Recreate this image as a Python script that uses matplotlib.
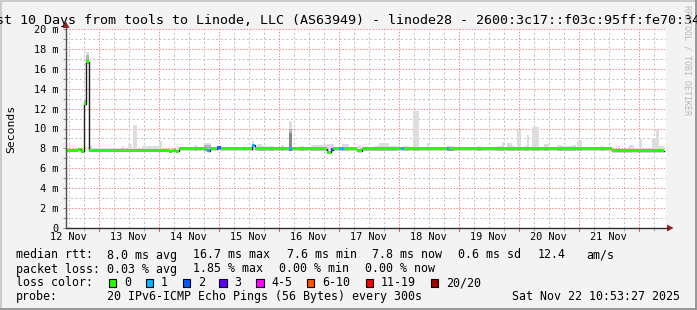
import matplotlib
matplotlib.use('Agg')
import matplotlib.pyplot as plt
from matplotlib.patches import Rectangle, Polygon
from matplotlib.lines import Line2D

W, H = 697, 310
MONO = 'DejaVu Sans Mono'

# ---------------- data ----------------
title = "Last 10 Days from tools to Linode, LLC (AS63949) - linode28 - 2600:3c17::f03c:95ff:fe70:34"
day_labels = ['12 Nov', '13 Nov', '14 Nov', '15 Nov', '16 Nov',
              '17 Nov', '18 Nov', '19 Nov', '20 Nov', '21 Nov']
span_hours = 240.0            # last 10 days, ending Sat Nov 22 10:53:27
first_midnight = 13.109       # hours from start to Nov 13 00:00
y_ticks = [0, 2, 4, 6, 8, 10, 12, 14, 16, 18, 20]
y_tick_labels = ['0', '2 m', '4 m', '6 m', '8 m', '10 m', '12 m', '14 m',
                 '16 m', '18 m', '20 m']

# median rtt (ms) as steps: segment i spans med_t[i]..med_t[i+1]
med_t = [0, 4.8, 6.0, 7.0, 8.0, 9.0, 41.2, 42.4, 44.0, 45.2, 56.4, 57.6,
         60.4, 62.0, 74.4, 75.6, 89.2, 90.4, 104.4, 106.0, 106.8, 109.2,
         111.2, 116.4, 118.4, 134.0, 135.2, 152.4, 153.2, 218.4, 239.2]
med_v = [7.8, 7.9, 7.7, 12.5, 16.7, 7.8, 7.7, 7.8, 7.7, 7.95, 7.75, 7.95,
         8.05, 7.95, 8.3, 7.95, 7.95, 7.95, 7.6, 7.85, 7.95, 7.95,
         7.95, 7.75, 7.95, 7.95, 7.95, 7.95, 7.95, 7.75]
med_loss = [0, 0, 0, 0, 0, 0, 0, 0, 0, 0, 1, 0,
            2, 0, 1, 0, 1, 0, 0, 2, 0, 1,
            0, 0, 0, 1, 0, 1, 0, 0]

# smoke (ping spread): light outer envelope, low..top
smoke_t0 = [4.3, 7.0, 8.0, 9.0, 10.5, 22.3, 24.8, 26.9, 30.5, 37.2, 51.2, 55.2,
            60.8, 74.3, 76.3, 78.5, 81.2, 85.9, 89.2, 93.2, 97.9, 104.5,
            110.5, 116.3, 119.2, 123.2, 125.2, 129.2, 135.2, 138.9, 144.3,
            152.5, 164.3, 172.3, 174.3, 176.5, 178.5, 180.5, 183.2, 184.3,
            186.5, 191.2, 196.3, 198.5, 202.5, 204.5, 213.9, 218.4, 225.2,
            229.2, 234.3, 235.9, 237.2]
smoke_t1 = [5.3, 8.0, 9.0, 10.5, 21.9, 23.2, 26.4, 28.3, 37.2, 38.3, 52.5, 57.9,
            62.5, 75.2, 78.5, 80.5, 83.2, 87.2, 90.5, 95.2, 104.5, 107.2,
            113.2, 117.9, 123.2, 125.2, 129.2, 132.5, 137.2, 141.2, 145.2,
            155.2, 165.9, 174.3, 175.2, 178.5, 179.5, 182.1, 184.3, 185.2,
            189.2, 193.2, 198.5, 202.5, 203.9, 206.5, 215.2, 225.2, 227.2,
            230.5, 235.9, 237.2, 239.2]
smoke_low = [7.7, 12.3, 16.5, 7.7, 7.7, 7.7, 7.7, 7.7, 7.7, 7.7, 7.7, 7.7,
             7.7, 7.7, 7.7, 7.7, 7.7, 7.7, 7.7, 7.7, 7.7, 7.7,
             7.7, 7.7, 7.7, 7.7, 7.7, 7.7, 7.7, 7.7, 7.7,
             7.7, 7.7, 7.7, 7.7, 7.7, 7.7, 7.7, 7.7, 7.7,
             7.7, 7.7, 7.7, 7.7, 7.7, 7.7, 7.7, 7.6, 7.7,
             7.7, 7.7, 7.7, 7.7]
smoke_top = [8.1, 13.1, 17.7, 8.25, 8.07, 8.25, 8.45, 10.35, 8.2, 8.75, 8.3, 8.5,
             8.27, 8.77, 8.45, 8.27, 8.27, 8.37, 10.75, 8.27, 8.3, 8.45,
             8.4, 8.27, 8.15, 8.27, 8.5, 8.27, 8.27, 11.75, 8.5,
             8.27, 8.27, 8.27, 8.67, 8.57, 8.27, 9.85, 8.27, 9.3,
             10.15, 8.4, 8.35, 8.27, 8.35, 8.7, 8.2, 7.95, 8.35,
             8.95, 9.0, 9.85, 8.2]
# denser inner parts of the smoke
mid_t0 = [7.0, 8.0, 89.2, 55.2, 152.5, 218.4]
mid_t1 = [8.0, 9.0, 90.5, 57.9, 155.2, 225.2]
mid_low = [12.4, 16.6, 7.7, 7.7, 7.7, 7.6]
mid_top = [12.9, 17.4, 9.9, 8.3, 8.1, 7.98]
dark_t0 = [89.2]
dark_t1 = [90.5]
dark_low = [7.7]
dark_top = [9.5]

loss_labels = ['0', '1', '2', '3', '4-5', '6-10', '11-19', '20/20']
loss_colors = ['#26ff00', '#00b8ff', '#0059ff', '#5e00ff', '#ff00ff',
               '#ff5500', '#ff0000', '#a10000']

rtt_stats = ['8.0 ms avg', '16.7 ms max', '7.6 ms min', '7.8 ms now',
             '0.6 ms sd', '12.4', 'am/s']
loss_stats = ['0.03 % avg', '1.85 % max', '0.00 % min', '0.00 % now']
probe_text = '20 IPv6-ICMP Echo Pings (56 Bytes) every 300s'
stamp = 'Sat Nov 22 10:53:27 2025'

# ---------------- figure ----------------
def fx(x):
    return x / W

def fy(y):
    return 1 - y / H

fig = plt.figure(figsize=(W / 100, H / 100), dpi=100, facecolor='#f3f3f3')

# 3D frame
fig.add_artist(Rectangle((0, fy(2)), 1, 2 / H, transform=fig.transFigure,
                         color='#cbcbcb', lw=0))
fig.add_artist(Rectangle((0, 0), 2 / W, 1, transform=fig.transFigure,
                         color='#cbcbcb', lw=0))
fig.add_artist(Rectangle((0, 0), 1, 2 / H, transform=fig.transFigure,
                         color='#999999', lw=0))
fig.add_artist(Rectangle((fx(695), 0), 2 / W, 1, transform=fig.transFigure,
                         color='#999999', lw=0))

ax = fig.add_axes([fx(66), fy(228), 600 / W, 199 / H])
ax.set_facecolor('white')
for s in ax.spines.values():
    s.set_visible(False)
ax.set_xlim(0, span_hours)
ax.set_ylim(0, 20)

# grid (dotted, 1px lines)
midnights = [first_midnight + 24 * k for k in range(10)]
sixes = [first_midnight - 12 + 6 * k for k in range(41)]
sixes = [s for s in sixes if 0 < s < span_hours and
         min(abs(s - m) for m in midnights) > 0.5]
gray_ls = (0, (2.2, 2.2))
red_ls = (0, (1.5, 1.5))
ax.vlines(sixes, 0, 20, colors='#c4c4c4', linestyles=[gray_ls],
          linewidth=0.72, zorder=1)
ax.hlines([v for v in range(1, 20, 2)], 0, span_hours, colors='#c4c4c4',
          linestyles=[gray_ls], linewidth=0.72, zorder=1)
ax.vlines(midnights, 0, 20, colors='#f29090', linestyles=[red_ls],
          linewidth=0.72, zorder=1.1)
ax.hlines(y_ticks[1:], 0, span_hours, colors='#f29090',
          linestyles=[red_ls], linewidth=0.72, zorder=1.1)

# smoke
for t0, t1, lo, top in zip(smoke_t0, smoke_t1, smoke_low, smoke_top):
    ax.bar(t0, top - lo, width=t1 - t0, bottom=lo, align='edge',
           color='#dddddd', linewidth=0, zorder=2)
for t0, t1, lo, top in zip(mid_t0, mid_t1, mid_low, mid_top):
    ax.bar(t0, top - lo, width=t1 - t0, bottom=lo, align='edge',
           color='#b4b4b4', linewidth=0, zorder=2.1)
for t0, t1, lo, top in zip(dark_t0, dark_t1, dark_low, dark_top):
    ax.bar(t0, top - lo, width=t1 - t0, bottom=lo, align='edge',
           color='#888888', linewidth=0, zorder=2.2)

# median: thin black step line + loss coloured bars
ax.plot(med_t, med_v + [med_v[-1]], drawstyle='steps-post', color='#202020',
        linewidth=1.0, zorder=3)
for i in range(len(med_v)):
    ax.bar(med_t[i], 0.3, width=med_t[i + 1] - med_t[i], bottom=med_v[i] - 0.15,
           align='edge', color=loss_colors[med_loss[i]], linewidth=0, zorder=4)

# ticks
ax.set_xticks([first_midnight - 12 + 24 * k for k in range(10)])
ax.set_xticklabels(day_labels, fontfamily=MONO, fontsize=7.4, color='#000000')
ax.tick_params(axis='x', length=0, pad=3.2)
ax.set_xticks(sixes, minor=True)
ax.tick_params(axis='x', which='minor', length=2.2, width=0.72, color='#b0b0b0')
ax.set_yticks(y_ticks)
ax.set_yticklabels(y_tick_labels, fontfamily=MONO, fontsize=7.4, color='#000000')
ax.set_yticks(list(range(1, 20, 2)), minor=True)
ax.tick_params(axis='y', which='both', length=2.5, width=0.72, color='#909090',
               pad=3.2)
for m in midnights:
    ax.plot([m, m], [0, -0.3], color='#e06060', linewidth=0.8, clip_on=False,
            zorder=5)

ax.set_ylabel('Seconds', fontfamily=MONO, fontsize=8.2)
ax.yaxis.label.set_va('center')
ax.yaxis.label.set_ha('center')
ax.yaxis.set_label_coords((10.8 - 66) / 600, 0.5)

# axis lines + arrows
fig.add_artist(Line2D([fx(66), fx(668)], [fy(228), fy(228)],
                      transform=fig.transFigure, color='#303030', lw=1.0))
fig.add_artist(Line2D([fx(66), fx(66)], [fy(228), fy(27)],
                      transform=fig.transFigure, color='#505050', lw=1.0))
fig.add_artist(Polygon([(fx(667), fy(224.5)), (fx(667), fy(231.5)),
                        (fx(673.5), fy(228))], closed=True,
                       transform=fig.transFigure, color='#9b2020', lw=0))
fig.add_artist(Polygon([(fx(62.5), fy(28)), (fx(69.5), fy(28)),
                        (fx(66), fy(21.5))], closed=True,
                       transform=fig.transFigure, color='#9b2020', lw=0))

# title
fig.text(fx(-19.5), fy(24), title, fontfamily=MONO, fontsize=9.6,
         ha='left', va='baseline', color='#000000')

# watermark
fig.text(fx(686.5), fy(5), 'RRDTOOL / TOBI OETIKER', fontfamily=MONO,
         fontsize=6.0, rotation=-90, ha='center', va='top', color='#b8b8b8')

# legend
LF = 8.4
def legend_text(x, y, s, ha='left'):
    fig.text(fx(x), fy(y), s, fontfamily=MONO, fontsize=LF, ha=ha,
             va='baseline', color='#000000')

legend_text(16, 258.5, 'median rtt:')
for x, s in zip([107.3, 193.3, 286.7, 372.3, 458.3, 537.3, 586], rtt_stats):
    legend_text(x, 258.5, s)
legend_text(16, 272.5, 'packet loss:')
for x, s in zip([107.3, 193.3, 279.3, 365.0], loss_stats):
    legend_text(x, 272.5, s)
legend_text(16, 286.5, 'loss color:')
for x, lab, col in zip([108.7, 145.7, 182.7, 219.3, 256.0, 306.7, 365.7, 430.7],
                       loss_labels, loss_colors):
    fig.add_artist(Rectangle((fx(x), fy(286.5)), 7.5 / W, 8 / H,
                             transform=fig.transFigure, facecolor=col,
                             edgecolor='#000000', lw=0.8))
    legend_text(x + 15.3, 286.5, lab)
legend_text(16, 300.3, 'probe:')
legend_text(107.3, 300.3, probe_text)
legend_text(680.5, 300.3, stamp, ha='right')

fig.savefig('out.png', dpi=100, facecolor=fig.get_facecolor())
